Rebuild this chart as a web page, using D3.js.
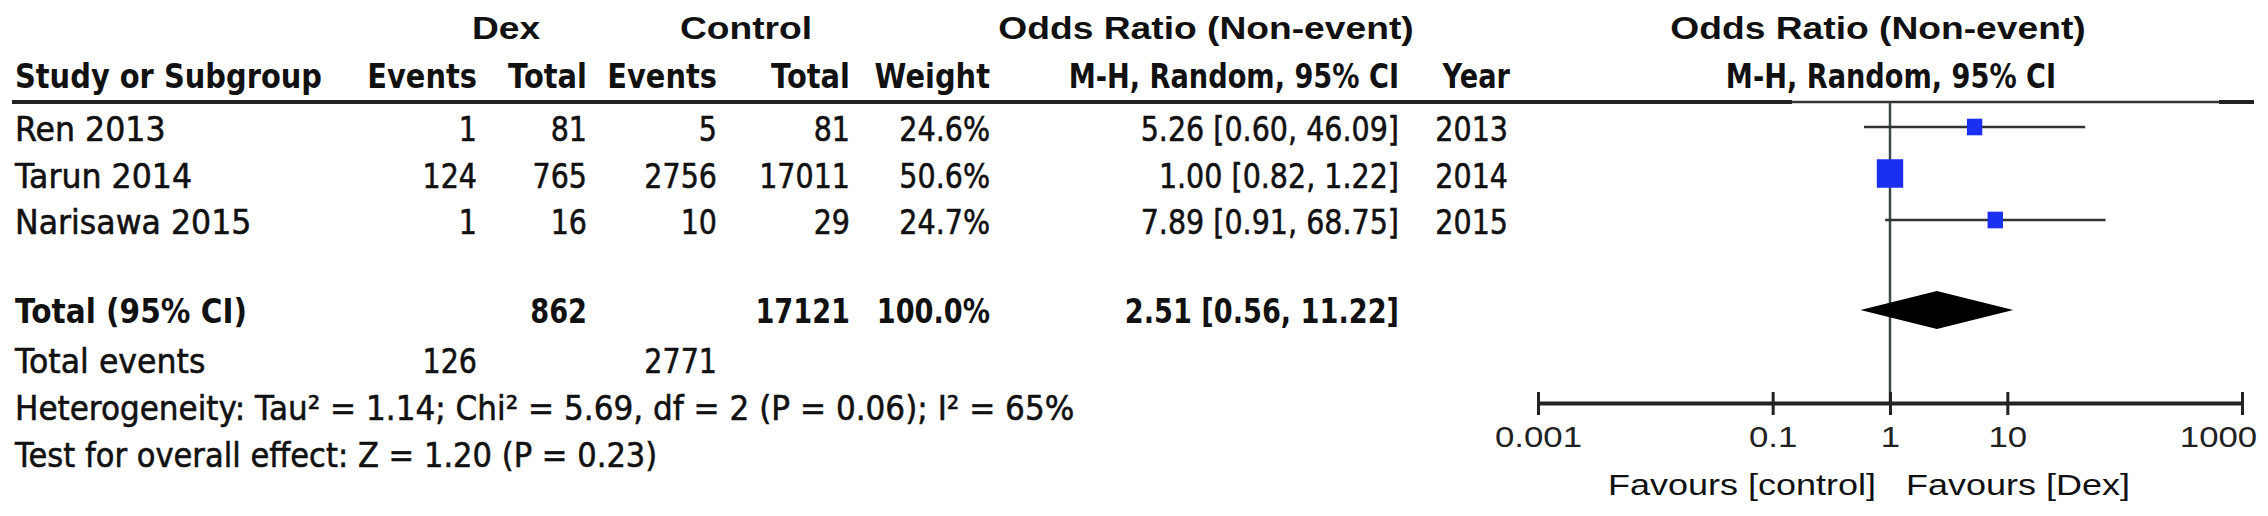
<!DOCTYPE html>
<html>
<head>
<meta charset="utf-8">
<script src="https://cdn.jsdelivr.net/npm/d3@7"></script>
<style>
  body { margin: 0; background: #fff; }
</style>
</head>
<body>
<svg id="chart" width="2268" height="516"></svg>
<script>
// study rows
var studies = ["Ren 2013", "Tarun 2014", "Narisawa 2015"];
var dexEvents = [1, 124, 1];
var dexTotal = [81, 765, 16];
var ctlEvents = [5, 2756, 10];
var ctlTotal = [81, 17011, 29];
var weights = [24.6, 50.6, 24.7];
var orMid = [5.26, 1.00, 7.89];
var orLow = [0.60, 0.82, 0.91];
var orHigh = [46.09, 1.22, 68.75];
var years = [2013, 2014, 2015];

// pooled result
var totalDex = 862, totalCtl = 17121, totalWeight = 100.0;
var pooled = [2.51, 0.56, 11.22];   // estimate, lower, upper
var totalEventsDex = 126, totalEventsCtl = 2771;
var heterogeneity = "Heterogeneity: Tau\u00B2 = 1.14; Chi\u00B2 = 5.69, df = 2 (P = 0.06); I\u00B2 = 65%";
var overallEffect = "Test for overall effect: Z = 1.20 (P = 0.23)";

// axis
var tickValues = [0.001, 0.1, 1, 10, 1000];
var tickLabels = ["0.001", "0.1", "1", "10", "1000"];

var svg = d3.select("#chart");

// scales
var x = d3.scaleLog().domain([0.001, 1000]).range([1538, 2242]);
var y = d3.scalePoint().domain(studies).range([127, 220]);
var totalY = 310;
var boxSize = d3.scalePow().exponent(0.75).domain([0, 100]).range([0, 44]);

// right edge of each table column
var col = { dexE: 477, dexT: 587, ctlE: 717, ctlT: 850, weight: 990, ci: 1399, year: 1508 };

var tableFont = "'DejaVu Sans', Verdana, sans-serif";
var plotFont = "'Liberation Sans', Arial, sans-serif";

// text helper: squeeze or widen horizontally like the original picture
// words get a wider squeeze than numbers (original font has narrow digits)
function label(x0, y0, s, o) {
  o = o || {};
  var sx = o.sx || (o.bold ? (o.words ? 0.85 : 0.8) : (o.words ? 0.93 : 0.84));
  var t = svg.append("text")
    .attr("transform", "translate(" + x0 + "," + y0 + ") scale(" + sx + ",1)")
    .attr("text-anchor", o.anchor || "start")
    .style("font-family", o.font || tableFont)
    .style("font-size", (o.size || 34) + "px")
    .style("font-weight", o.bold ? "bold" : "normal")
    .style("fill", "#111")
    .text(s);
  if (!o.bold && !o.font) t.style("stroke", "#111").style("stroke-width", 0.6);
  return t;
}

function fmtCI(m, l, h) {
  return m.toFixed(2) + " [" + l.toFixed(2) + ", " + h.toFixed(2) + "]";
}

// header row 1
var hdr = { font: plotFont, size: 31, bold: true, sx: 1.2, anchor: "middle" };
label(506, 39, "Dex", hdr);
label(746, 39, "Control", hdr);
label(1206, 39, "Odds Ratio (Non-event)", hdr);
label(1878, 39, "Odds Ratio (Non-event)", hdr);

// header row 2
var h2 = { bold: true, words: true, anchor: "end" };
label(15, 88, "Study or Subgroup", { bold: true, words: true });
label(col.dexE, 88, "Events", h2);
label(col.dexT, 88, "Total", h2);
label(col.ctlE, 88, "Events", h2);
label(col.ctlT, 88, "Total", h2);
label(col.weight, 88, "Weight", h2);
label(col.ci, 88, "M-H, Random, 95% CI", { bold: true, anchor: "end" });
label(col.year + 2, 88, "Year", { bold: true, anchor: "end" });
label(1891, 88, "M-H, Random, 95% CI", { bold: true, anchor: "middle" });

// rule under headers
svg.append("line").attr("x1", 12).attr("x2", 1792).attr("y1", 102).attr("y2", 102)
  .attr("stroke", "#222").attr("stroke-width", 4);
svg.append("line").attr("x1", 1792).attr("x2", 2219).attr("y1", 102).attr("y2", 102)
  .attr("stroke", "#333").attr("stroke-width", 2.5);
svg.append("line").attr("x1", 2219).attr("x2", 2254).attr("y1", 102).attr("y2", 102)
  .attr("stroke", "#222").attr("stroke-width", 4);

// study rows
studies.forEach(function(s, i) {
  var by = y(s) + 14;
  var r = { anchor: "end" };
  label(15, by, s, { words: true });
  label(col.dexE, by, dexEvents[i], r);
  label(col.dexT, by, dexTotal[i], r);
  label(col.ctlE, by, ctlEvents[i], r);
  label(col.ctlT, by, ctlTotal[i], r);
  label(col.weight, by, weights[i].toFixed(1) + "%", r);
  label(col.ci, by, fmtCI(orMid[i], orLow[i], orHigh[i]), r);
  label(col.year, by, years[i], r);
});

// total row
var tb = totalY + 13;
label(15, tb, "Total (95% CI)", { bold: true, sx: 0.87 });
label(col.dexT, tb, totalDex, { bold: true, anchor: "end" });
label(col.ctlT, tb, totalCtl, { bold: true, anchor: "end" });
label(col.weight, tb, totalWeight.toFixed(1) + "%", { bold: true, anchor: "end" });
label(col.ci, tb, fmtCI(pooled[0], pooled[1], pooled[2]), { bold: true, anchor: "end" });

label(15, 373, "Total events", { words: true });
label(col.dexE, 373, totalEventsDex, { anchor: "end" });
label(col.ctlE, 373, totalEventsCtl, { anchor: "end" });
label(15, 420, heterogeneity, { sx: 0.915 });
label(15, 467, overallEffect, { sx: 0.9 });

// line of no effect
svg.append("line")
  .attr("x1", x(1)).attr("x2", x(1)).attr("y1", 102).attr("y2", 403)
  .attr("stroke", "#3a4a48").attr("stroke-width", 2.5);

// confidence intervals
var rows = studies.map(function(s, i) {
  return { name: s, mid: orMid[i], lo: orLow[i], hi: orHigh[i], w: weights[i] };
});

svg.selectAll(".ci").data(rows).enter().append("line")
  .attr("class", "ci")
  .attr("x1", function(d) { return x(d.lo); })
  .attr("x2", function(d) { return x(d.hi); })
  .attr("y1", function(d) { return y(d.name); })
  .attr("y2", function(d) { return y(d.name); })
  .attr("stroke", "#333").attr("stroke-width", 2.5);

svg.selectAll(".box").data(rows).enter().append("rect")
  .attr("class", "box")
  .attr("x", function(d) { return x(d.mid) - boxSize(d.w) / 2; })
  .attr("y", function(d) { return y(d.name) - boxSize(d.w) * 0.54; })
  .attr("width", function(d) { return boxSize(d.w); })
  .attr("height", function(d) { return boxSize(d.w) * 1.08; })
  .attr("fill", "#1a2ff0");

// pooled diamond
svg.append("path")
  .attr("d", "M" + x(pooled[1]) + "," + totalY +
             "L" + x(pooled[0]) + "," + (totalY - 19) +
             "L" + x(pooled[2]) + "," + totalY +
             "L" + x(pooled[0]) + "," + (totalY + 19) + "Z")
  .attr("fill", "#000");

// axis
var axis = d3.axisBottom(x)
  .tickValues(tickValues)
  .tickFormat(function(d, i) { return tickLabels[i]; })
  .tickSizeOuter(0)
  .tickSizeInner(12);

var ax = svg.append("g")
  .attr("transform", "translate(0,403)")
  .call(axis);

ax.select(".domain").attr("stroke", "#222").attr("stroke-width", 4);
ax.selectAll(".tick line").attr("y1", -11).attr("y2", 12)
  .attr("stroke", "#222").attr("stroke-width", 3);
ax.selectAll(".tick text")
  .attr("y", 0).attr("dy", 0)
  .attr("transform", function(d, i) {
    // last label is pulled in so it stays inside the picture
    var shift = i === tickValues.length - 1 ? -24 : 0;
    return "translate(" + shift + ",44) scale(1.16,1)";
  })
  .style("font-family", plotFont)
  .style("font-size", "30px")
  .style("fill", "#222");

// favours labels
label(x(1) - 14, 495, "Favours [control]", { font: plotFont, size: 30, sx: 1.2, anchor: "end" });
label(x(1) + 16, 495, "Favours [Dex]", { font: plotFont, size: 30, sx: 1.2 });
</script>
</body>
</html>
